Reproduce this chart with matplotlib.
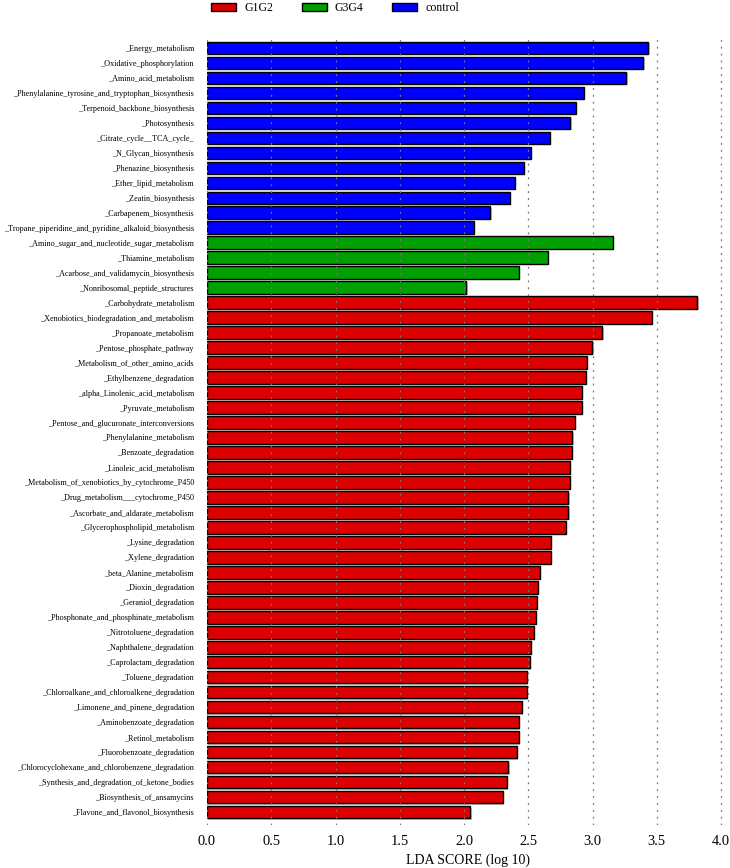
import matplotlib
matplotlib.use("Agg")
import matplotlib.pyplot as plt
from matplotlib.patches import Patch
import matplotlib.patheffects as pe

control_names = ["_Energy_metabolism", "_Oxidative_phosphorylation", "_Amino_acid_metabolism",
                 "_Phenylalanine_tyrosine_and_tryptophan_biosynthesis", "_Terpenoid_backbone_biosynthesis",
                 "_Photosynthesis", "_Citrate_cycle__TCA_cycle_", "_N_Glycan_biosynthesis",
                 "_Phenazine_biosynthesis", "_Ether_lipid_metabolism", "_Zeatin_biosynthesis",
                 "_Carbapenem_biosynthesis", "_Tropane_piperidine_and_pyridine_alkaloid_biosynthesis"]
control_vals = [3.434, 3.395, 3.263, 2.931, 2.872, 2.827, 2.669, 2.519, 2.467, 2.397, 2.355, 2.205, 2.078]

g3g4_names = ["_Amino_sugar_and_nucleotide_sugar_metabolism", "_Thiamine_metabolism",
              "_Acarbose_and_validamycin_biosynthesis", "_Nonribosomal_peptide_structures"]
g3g4_vals = [3.159, 2.651, 2.425, 2.018]

g1g2_names = ["_Carbohydrate_metabolism", "_Xenobiotics_biodegradation_and_metabolism",
              "_Propanoate_metabolism", "_Pentose_phosphate_pathway", "_Metabolism_of_other_amino_acids",
              "_Ethylbenzene_degradation", "_alpha_Linolenic_acid_metabolism", "_Pyruvate_metabolism",
              "_Pentose_and_glucuronate_interconversions", "_Phenylalanine_metabolism",
              "_Benzoate_degradation", "_Linoleic_acid_metabolism",
              "_Metabolism_of_xenobiotics_by_cytochrome_P450", "_Drug_metabolism___cytochrome_P450",
              "_Ascorbate_and_aldarate_metabolism", "_Glycerophospholipid_metabolism",
              "_Lysine_degradation", "_Xylene_degradation", "_beta_Alanine_metabolism",
              "_Dioxin_degradation", "_Geraniol_degradation", "_Phosphonate_and_phosphinate_metabolism",
              "_Nitrotoluene_degradation", "_Naphthalene_degradation", "_Caprolactam_degradation",
              "_Toluene_degradation", "_Chloroalkane_and_chloroalkene_degradation",
              "_Limonene_and_pinene_degradation", "_Aminobenzoate_degradation", "_Retinol_metabolism",
              "_Fluorobenzoate_degradation", "_Chlorocyclohexane_and_chlorobenzene_degradation",
              "_Synthesis_and_degradation_of_ketone_bodies", "_Biosynthesis_of_ansamycins",
              "_Flavone_and_flavonol_biosynthesis"]
g1g2_vals = [3.815, 3.46, 3.076, 2.998, 2.954, 2.946, 2.918, 2.918, 2.863, 2.843, 2.840, 2.822,
             2.822, 2.812, 2.812, 2.794, 2.677, 2.675, 2.589, 2.576, 2.568, 2.558, 2.542, 2.521,
             2.511, 2.488, 2.488, 2.451, 2.428, 2.428, 2.412, 2.345, 2.332, 2.301, 2.049]

groups = ["G1G2", "G3G4", "control"]
colors = {"G1G2": "#DD0000", "G3G4": "#00A000", "control": "#0000FF"}

plt.rcParams['font.family'] = ['Liberation Serif', 'DejaVu Serif']

names = control_names + g3g4_names + g1g2_names
vals = control_vals + g3g4_vals + g1g2_vals
cols = ([colors["control"]] * len(control_names) + [colors["G3G4"]] * len(g3g4_names)
        + [colors["G1G2"]] * len(g1g2_names))

n = len(names)
ypos = list(range(n - 1, -1, -1))

W, H = 730, 868
fig = plt.figure(figsize=(W / 100, H / 100), dpi=100)
ax = fig.add_axes([207 / W, 1 - 825 / H, (728 - 207) / W, (825 - 35) / H])

shadow = [pe.SimplePatchShadow(offset=(1, -1), shadow_rgbFace="#999999", alpha=0.6), pe.Normal()]
bars = ax.barh(ypos, vals, height=0.82, color=cols, edgecolor="black", linewidth=1.0, zorder=2)
for b in bars:
    b.set_path_effects(shadow)

ax.set_xlim(0, (728 - 207) / 128.5)
ax.set_ylim(-0.85, n - 1 + 0.85)
ax.set_yticks(ypos)
ax.set_yticklabels(names, fontsize=5.9)
xt = [0.0, 0.5, 1.0, 1.5, 2.0, 2.5, 3.0, 3.5, 4.0]
ax.set_xticks(xt)
ax.set_xticklabels([f"{v:.1f}" for v in xt], fontsize=10.4)
ax.tick_params(axis="x", length=0, pad=7)
ax.tick_params(axis="y", length=0, pad=9.4)
for x in xt:
    ax.axvline(x, color="#777777", linestyle=(0, (1.5, 4)), linewidth=0.9, zorder=3)
for s in ax.spines.values():
    s.set_visible(False)
ax.set_xlabel("LDA SCORE (log 10)", fontsize=10, labelpad=4)

handles = [Patch(facecolor=colors[g], edgecolor="black", linewidth=1.0, label=g) for g in groups]
fig.legend(handles=handles, loc="upper left", bbox_to_anchor=(210 / W, 0.999), ncol=3, frameon=False,
           fontsize=8.6, handlelength=2.1, handleheight=0.6, columnspacing=2.4, handletextpad=0.67,
           borderaxespad=0.0, borderpad=0.1)

fig.savefig("out.png", dpi=100)
